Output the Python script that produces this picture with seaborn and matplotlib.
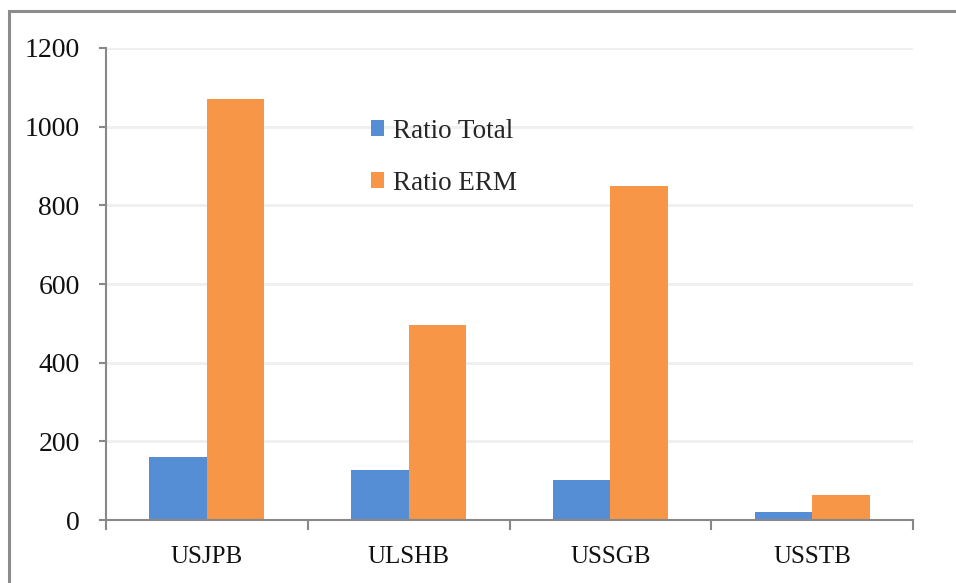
import matplotlib
matplotlib.use("Agg")
import matplotlib.pyplot as plt
from matplotlib.patches import Rectangle, Patch
import seaborn as sns
import pandas as pd
import numpy as np

categories = ["USJPB", "ULSHB", "USSGB", "USSTB"]
ratio_total = [159, 126, 103, 21]
ratio_erm = [1071, 497, 850, 64]
series_names = ["Ratio Total", "Ratio ERM"]
colors = ["#558ED5", "#F79646"]
y_ticks = [0, 200, 400, 600, 800, 1000, 1200]

df = pd.DataFrame({
    "category": categories * 2,
    "series": [series_names[0]] * len(categories) + [series_names[1]] * len(categories),
    "value": ratio_total + ratio_erm,
})

sns.set_theme(style="white")
plt.rcParams["font.family"] = ["Liberation Serif", "DejaVu Serif"]

fig = plt.figure(figsize=(9.56, 5.83), dpi=100)
ax = fig.add_axes([0.1109, 0.108, 0.8441, 0.8097])

sns.barplot(data=df, x="category", y="value", hue="series", palette=colors,
            width=0.57, gap=0, saturation=1, ax=ax, legend=False,
            edgecolor="none", linewidth=0)

ax.set_ylim(0, 1200)
ax.set_xlim(-0.5, len(categories) - 0.5)
ax.set_yticks(y_ticks)
ax.set_yticklabels([str(t) for t in y_ticks])
ax.yaxis.grid(True, color="#EFEFEF", linewidth=2)
ax.set_axisbelow(True)
ax.set_xlabel("")
ax.set_ylabel("")

for side in ["top", "right"]:
    ax.spines[side].set_visible(False)
for side in ["left", "bottom"]:
    ax.spines[side].set_color("#888888")
    ax.spines[side].set_linewidth(1.5)

ax.tick_params(axis="y", which="major", length=5, width=1.5, color="#888888",
               labelsize=20, pad=14, left=True, labelcolor="#111111")
ax.set_xticks(np.arange(-0.5, len(categories), 1.0), minor=True)
ax.tick_params(axis="x", which="minor", length=7, width=1.5, color="#888888",
               bottom=True, direction="out")
ax.tick_params(axis="x", which="major", length=0, labelsize=18, pad=19,
               labelcolor="#111111")

handles = [Patch(facecolor=c, edgecolor="none") for c in colors]
ax.legend(handles, series_names, loc="upper left", bbox_to_anchor=(0.298, 0.902),
          frameon=False, fontsize=19.5, handlelength=0.5, handleheight=0.5,
          handletextpad=0.3, labelspacing=1.0)

# outer frame around the chart area
fig.patches.append(Rectangle((9 / 956, -0.05), 1.1, 1 - 11 / 583 + 0.05,
                             transform=fig.transFigure, fill=False,
                             edgecolor="#8C8C8C", linewidth=2.2))

fig.savefig("out.png", dpi=100)
